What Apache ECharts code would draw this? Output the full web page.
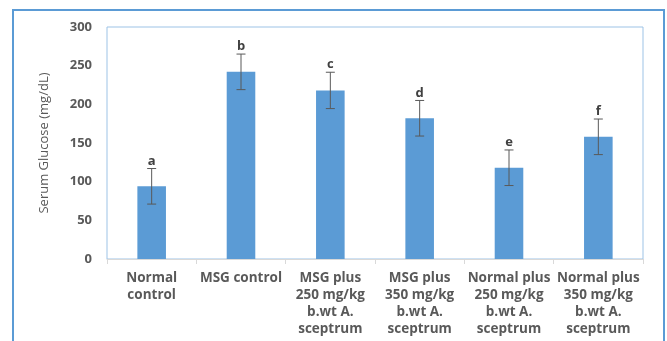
<!DOCTYPE html>
<html>
<head>
<meta charset="utf-8">
<script src="https://cdn.jsdelivr.net/npm/echarts@6/dist/echarts.min.js"></script>
<style>
  html, body { margin: 0; padding: 0; background: #fff; }
  #chart { width: 667px; height: 341px; }
</style>
</head>
<body>
<div id="chart"></div>
<script>
// groups on the x axis
var categories = ['Normal\ncontrol', 'MSG control', 'MSG plus\n250 mg/kg\nb.wt A.\nsceptrum',
    'MSG plus\n350 mg/kg\nb.wt A.\nsceptrum', 'Normal plus\n250 mg/kg\nb.wt A.\nsceptrum',
    'Normal plus\n350 mg/kg\nb.wt A.\nsceptrum'];
// mean serum glucose (mg/dL)
var means = [94, 242, 218, 182, 118, 158];
// error bar half-length
var errors = [23, 23, 23.5, 23, 23, 23];
// significance letters
var letters = ['a', 'b', 'c', 'd', 'e', 'f'];
var yTicks = {min: 0, max: 300, interval: 50};

var fontFam = '"Open Sans", sans-serif';
var textGray = '#595959';

var errData = means.map(function (m, i) {
    return [i, m - errors[i], m + errors[i], letters[i]];
});

var chart = echarts.init(document.getElementById('chart'));
var option = {
    animation: false,
    backgroundColor: '#fff',
    graphic: [{
        type: 'rect',
        shape: {x: 13, y: 10, width: 651, height: 345},
        style: {fill: 'none', stroke: '#5b9bd5', lineWidth: 2},
        silent: true
    }],
    grid: {
        left: 107, right: 24, top: 27, bottom: 82,
        show: true, borderColor: '#9dc3e6', borderWidth: 1
    },
    xAxis: {
        type: 'category',
        data: categories,
        axisLine: {lineStyle: {color: '#d9d9d9'}},
        axisTick: {show: true, length: 5, lineStyle: {color: '#d9d9d9'}},
        axisLabel: {
            interval: 0, margin: 11, color: textGray, fontWeight: 'bold',
            fontSize: 13.5, lineHeight: 17, fontFamily: fontFam
        }
    },
    yAxis: {
        type: 'value',
        min: yTicks.min, max: yTicks.max, interval: yTicks.interval,
        name: 'Serum Glucose (mg/dL)',
        nameLocation: 'middle',
        nameGap: 56,
        nameTextStyle: {color: textGray, fontSize: 13, fontFamily: fontFam},
        axisLine: {show: false},
        axisTick: {show: false},
        splitLine: {show: false},
        axisLabel: {color: textGray, fontWeight: 'bold', fontSize: 13, margin: 15, fontFamily: fontFam}
    },
    series: [
        {
            type: 'bar',
            data: means,
            barWidth: '32%',
            itemStyle: {color: '#5b9bd5'}
        },
        {
            type: 'custom',
            data: errData,
            z: 10,
            renderItem: function (params, api) {
                var x = api.coord([api.value(0), 0])[0];
                var lo = api.coord([api.value(0), api.value(1)])[1];
                var hi = api.coord([api.value(0), api.value(2)])[1];
                var cap = 4.5;
                var st = {stroke: '#595959', lineWidth: 1};
                return {
                    type: 'group',
                    children: [
                        {type: 'line', shape: {x1: x, y1: lo, x2: x, y2: hi}, style: st},
                        {type: 'line', shape: {x1: x - cap, y1: lo, x2: x + cap, y2: lo}, style: st},
                        {type: 'line', shape: {x1: x - cap, y1: hi, x2: x + cap, y2: hi}, style: st},
                        {
                            type: 'text',
                            style: {
                                text: api.value(3), x: x, y: hi - 1,
                                textAlign: 'center', textVerticalAlign: 'bottom',
                                fill: '#404040', fontWeight: 'bold', fontSize: 13, fontFamily: fontFam
                            }
                        }
                    ]
                };
            }
        }
    ]
};
chart.setOption(option);
</script>
</body>
</html>
